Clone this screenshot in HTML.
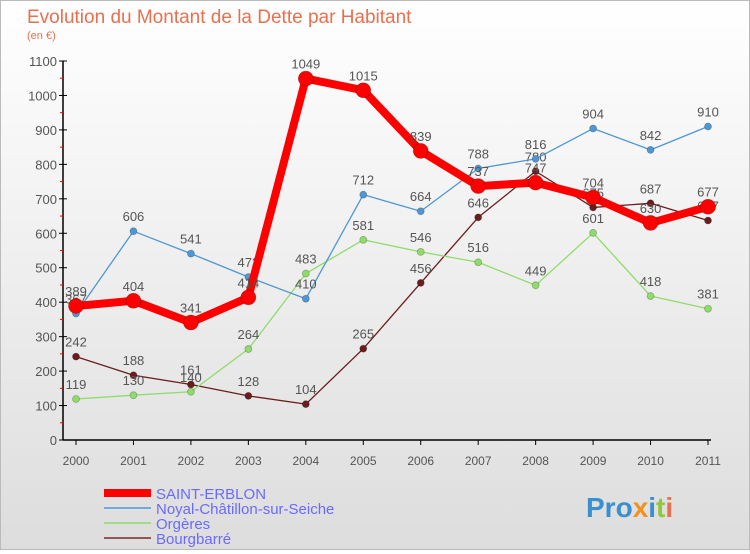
<!DOCTYPE html>
<html><head><meta charset="utf-8"><style>
body{margin:0;width:750px;height:550px;overflow:hidden;font-family:"Liberation Sans",sans-serif}
#wrap{position:relative;width:748px;height:548px;border:1px solid #bbb;background:linear-gradient(#fff,#ddd)}
</style></head><body>
<div id="wrap">
<svg id="chart" width="748" height="548" style="font-family:'Liberation Sans',sans-serif">
<text x="26" y="22" font-size="19" fill="#e8704f">Evolution du Montant de la Dette par Habitant</text>
<text x="26" y="38" font-size="11" fill="#e8704f">(en €)</text>
<g id="grid"></g><g id="series"></g>
<g>
<line x1="103" y1="492" x2="150" y2="492" stroke="#f00" stroke-width="8"/>
<text x="155" y="498" font-size="15" fill="#6a6aff">SAINT-ERBLON</text>
<line x1="103" y1="507" x2="150" y2="507" stroke="#4f97d3" stroke-width="1.5"/>
<text x="155" y="513" font-size="15" fill="#6a6aff">Noyal-Châtillon-sur-Seiche</text>
<line x1="103" y1="522" x2="150" y2="522" stroke="#8fdc6a" stroke-width="1.5"/>
<text x="155" y="528" font-size="15" fill="#6a6aff">Orgères</text>
<line x1="103" y1="537" x2="150" y2="537" stroke="#7a2a2a" stroke-width="1.5"/>
<text x="155" y="543" font-size="15" fill="#6a6aff">Bourgbarré</text>
</g>
<text x="585" y="516" font-size="28" font-weight="bold" fill="#3a8fd0">Pro<tspan fill="#f29020">x</tspan><tspan fill="#3a8fd0">i</tspan><tspan fill="#8fc83a">t</tspan><tspan fill="#e8704f">i</tspan></text>
</svg></div>
<script>
const years=[2000,2001,2002,2003,2004,2005,2006,2007,2008,2009,2010,2011];
const yTicks=[0,100,200,300,400,500,600,700,800,900,1000,1100];
const saint=[389,404,341,414,1049,1015,839,737,747,704,630,677];
const noyal=[367,606,541,473,410,712,664,788,816,904,842,910];
const orgeres=[119,130,140,264,483,581,546,516,449,601,418,381];
const bourg=[242,188,161,128,104,265,456,646,780,675,687,637];
const NS="http://www.w3.org/2000/svg";
const X=i=>75+i*(632/11), Y=v=>439-v*(379/1100);
function mk(t,a,p){const e=document.createElementNS(NS,t);for(const k in a)e.setAttribute(k,a[k]);p.appendChild(e);return e;}
const g=document.getElementById('grid');
mk('line',{x1:62,y1:Y(0),x2:62,y2:Y(1100),stroke:'#000','stroke-width':1.5},g);
mk('line',{x1:62,y1:Y(0),x2:710,y2:Y(0),stroke:'#000','stroke-width':1.5},g);
yTicks.forEach(v=>{
 const t=mk('text',{x:56,y:Y(v)+5,'text-anchor':'end','font-size':13,fill:'#555'},g);t.textContent=v;
 
 
 mk('line',{x1:58,y1:Y(v),x2:66,y2:Y(v),stroke:'#000'},g);
 if(v<1100)mk('line',{x1:59,y1:Y(v+50),x2:62,y2:Y(v+50),stroke:'#f00'},g);
});
years.forEach((y,i)=>{
 const t=mk('text',{x:X(i),y:464,'text-anchor':'middle','font-size':12,fill:'#555'},g);t.textContent=y;
 
 
 mk('line',{x1:X(i),y1:Y(0),x2:X(i),y2:Y(0)+5,stroke:'#000'},g);
});
const s=document.getElementById('series');
function draw(data,color,w,r,name){
 const gg=mk('g',{},s);
 
 
 mk('polyline',{points:data.map((v,i)=>X(i)+','+Y(v)).join(' '),fill:'none',stroke:color,'stroke-width':w,'stroke-linejoin':'round'},gg);
 data.forEach((v,i)=>{
  const c=mk('circle',{cx:X(i),cy:Y(v),r:r,fill:color,stroke:'rgba(0,0,0,0.25)','stroke-width':0.8},gg);
  
  
  const t=mk('text',{x:X(i),y:Y(v)-10,'text-anchor':'middle','font-size':13,fill:'#555'},gg);t.textContent=v;
 });
}
draw(bourg,'#6b1d1d',1.3,3.5,'series-bourgbarre');
draw(orgeres,'#8fdc6a',1.3,3.5,'series-orgeres');
draw(noyal,'#4f97d3',1.3,3.5,'series-noyal');
draw(saint,'#f00',8,7.5,'series-saint-erblon');
</script>
</body></html>
